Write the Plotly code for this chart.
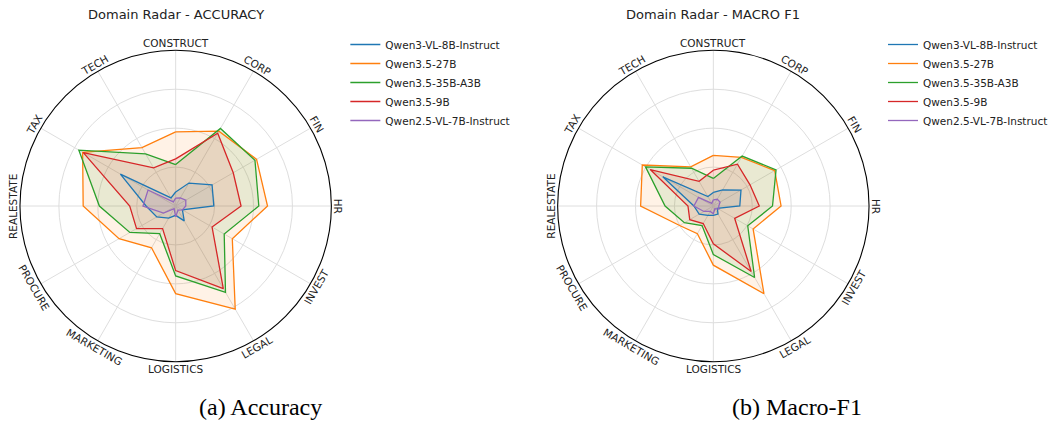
import math
import plotly.graph_objects as go

# ---------------- data ----------------
categories = ["CONSTRUCT", "CORP", "FIN", "HR", "INVEST", "LEGAL",
              "LOGISTICS", "MARKETING", "PROCURE", "REALESTATE", "TAX", "TECH"]

models = ["Qwen3-VL-8B-Instruct", "Qwen3.5-27B", "Qwen3.5-35B-A3B",
          "Qwen3.5-9B", "Qwen2.5-VL-7B-Instruct"]

# Accuracy (normalised to the outer ring)
acc_qwen3_vl_8b = [0.09, 0.17, 0.27, 0.245, 0.05, 0.11, 0.06, 0.09, 0.14, 0.19, 0.41, 0.06]
acc_qwen35_27b = [0.476, 0.555, 0.60, 0.59, 0.42, 0.765, 0.563, 0.31, 0.42, 0.594, 0.69, 0.433]
acc_qwen35_35b = [0.266, 0.575, 0.588, 0.534, 0.36, 0.64, 0.449, 0.205, 0.34, 0.49, 0.718, 0.386]
acc_qwen35_9b = [0.303, 0.54, 0.427, 0.42, 0.27, 0.612, 0.415, 0.168, 0.29, 0.295, 0.685, 0.283]
acc_qwen25_vl_7b = [0.05, 0.06, 0.075, 0.065, 0.05, 0.03, 0.07, 0.02, 0.09, 0.21, 0.205, 0.03]

# Macro F1 (normalised to the outer ring)
f1_qwen3_vl_8b = [0.087, 0.12, 0.205, 0.17, 0.03, 0.06, 0.06, 0.07, 0.105, 0.125, 0.375, 0.07]
f1_qwen35_27b = [0.325, 0.36, 0.455, 0.435, 0.295, 0.65, 0.38, 0.205, 0.25, 0.467, 0.527, 0.29]
f1_qwen35_35b = [0.177, 0.37, 0.465, 0.38, 0.255, 0.53, 0.312, 0.145, 0.215, 0.31, 0.503, 0.28]
f1_qwen35_9b = [0.23, 0.31, 0.272, 0.295, 0.158, 0.486, 0.243, 0.13, 0.175, 0.163, 0.468, 0.183]
f1_qwen25_vl_7b = [0.04, 0.05, 0.05, 0.035, 0.04, 0.02, 0.05, 0.04, 0.07, 0.125, 0.11, 0.02]

acc_series = [acc_qwen3_vl_8b, acc_qwen35_27b, acc_qwen35_35b, acc_qwen35_9b, acc_qwen25_vl_7b]
f1_series = [f1_qwen3_vl_8b, f1_qwen35_27b, f1_qwen35_35b, f1_qwen35_9b, f1_qwen25_vl_7b]

colors = ["#1f77b4", "#ff7f0e", "#2ca02c", "#d62728", "#9467bd"]
fills = ["rgba(31,119,180,0.1)", "rgba(255,127,14,0.1)", "rgba(44,160,44,0.1)",
         "rgba(214,39,40,0.1)", "rgba(148,103,189,0.1)"]

titles = ["Domain Radar - ACCURACY", "Domain Radar - MACRO F1"]
captions = ["(a) Accuracy", "(b) Macro-F1"]

# ---------------- layout geometry (pixels) ----------------
W, H = 1053, 422
R = 156
centers = [(176, 206), (714.7, 206)]
FONT = "DejaVu Sans"

fig = go.Figure()

for p, series in enumerate([acc_series, f1_series]):
    sub = "polar" if p == 0 else "polar2"
    leg = "legend" if p == 0 else "legend2"
    # translucent fills
    for name, vals, fc in zip(models, series, fills):
        fig.add_trace(go.Scatterpolar(
            r=vals + vals[:1], theta=categories + categories[:1],
            mode="lines", fill="toself", fillcolor=fc,
            line=dict(width=0, color=fc), hoverinfo="skip",
            name=name, subplot=sub, showlegend=False,
        ))
    # outlines
    for name, vals, col in zip(models, series, colors):
        fig.add_trace(go.Scatterpolar(
            r=vals + vals[:1], theta=categories + categories[:1],
            mode="lines", line=dict(color=col, width=1.3),
            name=name, subplot=sub, legend=leg,
        ))

annotations = []
polars = {}
for p in range(2):
    cx, cy = centers[p]
    key = "polar" if p == 0 else "polar2"
    polars[key] = dict(
        domain=dict(x=[(cx - R) / W, (cx + R) / W], y=[(H - cy - R) / H, (H - cy + R) / H]),
        bgcolor="white",
        angularaxis=dict(rotation=90, direction="clockwise", showticklabels=False,
                         ticks="", showline=True, linecolor="black", linewidth=1.1,
                         gridcolor="#dedede", gridwidth=0.8,
                         categoryorder="array", categoryarray=categories),
        radialaxis=dict(range=[0, 1], tickvals=[0.25, 0.5, 0.75], showticklabels=False,
                        ticks="", showline=False, gridcolor="#dedede", gridwidth=0.8),
    )
    # title
    annotations.append(dict(text=titles[p], x=cx / W, y=(H - 14) / H, xref="paper", yref="paper",
                            showarrow=False, xanchor="center", yanchor="middle",
                            font=dict(family=FONT, size=13, color="#222")))
    # tangential category labels
    rl = 163
    for i, cat in enumerate(categories):
        th = 360.0 * i / len(categories)
        x = cx + rl * math.sin(math.radians(th))
        y = cy - rl * math.cos(math.radians(th))
        if th <= 90:
            rot = th
        elif th < 270:
            rot = th - 180
        else:
            rot = th - 360
        annotations.append(dict(text=cat, x=x / W, y=(H - y) / H, xref="paper", yref="paper",
                                showarrow=False, xanchor="center", yanchor="middle",
                                textangle=rot,
                                font=dict(family=FONT, size=10.5, color="#222")))
    # sub caption
    capx = [261, 799][p]
    annotations.append(dict(text=captions[p], x=capx / W, y=(H - 407) / H, xref="paper", yref="paper",
                            showarrow=False, xanchor="center", yanchor="middle",
                            font=dict(family="Liberation Serif", size=24, color="black")))

legend_common = dict(xanchor="left", yanchor="top", bgcolor="rgba(0,0,0,0)",
                     font=dict(family=FONT, size=10.5, color="#222"), tracegroupgap=0,
                     itemwidth=30)

fig.update_layout(
    width=W, height=H,
    margin=dict(l=0, r=0, t=0, b=0),
    paper_bgcolor="white",
    showlegend=True,
    annotations=annotations,
    legend=dict(x=346 / W, y=(H - 30) / H, **legend_common),
    legend2=dict(x=(346 + 539) / W, y=(H - 30) / H, **legend_common),
    **polars,
)

fig.write_html("out.html", config={"displayModeBar": False},
               post_script="document.body.style.margin='0';document.body.style.overflow='hidden';")
